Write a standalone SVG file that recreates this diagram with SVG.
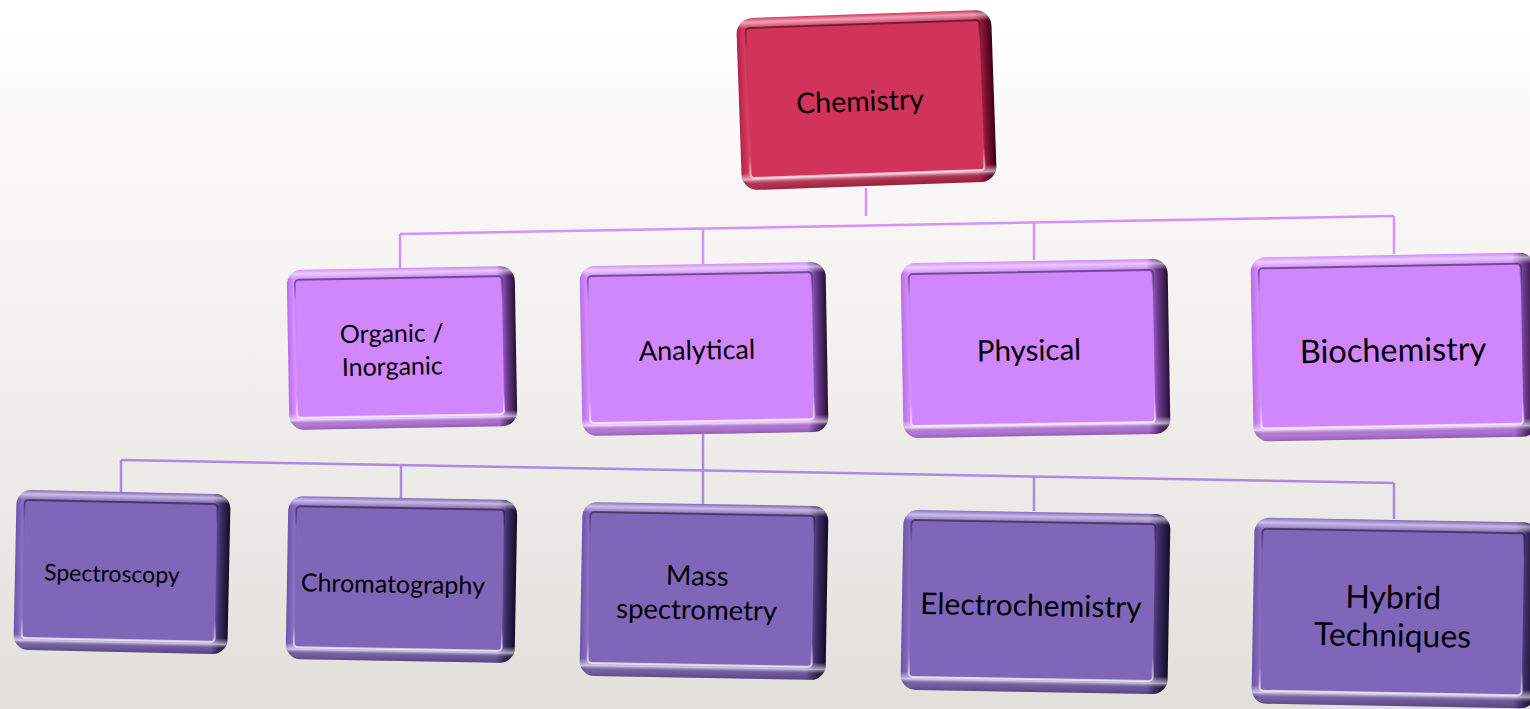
<svg xmlns="http://www.w3.org/2000/svg" width="1530" height="709" viewBox="0 0 1530 709">
<defs>
<linearGradient id="bg" x1="0" y1="0" x2="0" y2="1">
<stop offset="0" stop-color="#ffffff"/>
<stop offset="0.35" stop-color="#f6f5f3"/>
<stop offset="1" stop-color="#e3e0db"/>
</linearGradient>
<linearGradient id="hChem" x1="0" y1="0" x2="1" y2="0">
<stop offset="0" stop-color="#b02448"/>
<stop offset="0.03" stop-color="#d93a61"/>
<stop offset="0.93" stop-color="#cf2f55"/>
<stop offset="0.97" stop-color="#7a1030"/>
<stop offset="1" stop-color="#3a0414"/>
</linearGradient>
<linearGradient id="hL2" x1="0" y1="0" x2="1" y2="0">
<stop offset="0" stop-color="#b86ee8"/>
<stop offset="0.03" stop-color="#d890ff"/>
<stop offset="0.92" stop-color="#cd84fd"/>
<stop offset="0.96" stop-color="#6d3a90"/>
<stop offset="1" stop-color="#241030"/>
</linearGradient>
<linearGradient id="hL3" x1="0" y1="0" x2="1" y2="0">
<stop offset="0" stop-color="#6d54a8"/>
<stop offset="0.03" stop-color="#8a70c4"/>
<stop offset="0.92" stop-color="#7f63b8"/>
<stop offset="0.96" stop-color="#3c2c66"/>
<stop offset="1" stop-color="#140c24"/>
</linearGradient>
<linearGradient id="vHi" x1="0" y1="0" x2="0" y2="1">
<stop offset="0" stop-color="#ffffff" stop-opacity="0"/>
<stop offset="0.025" stop-color="#ffffff" stop-opacity="0.55"/>
<stop offset="0.06" stop-color="#ffffff" stop-opacity="0"/>
<stop offset="0.9" stop-color="#ffffff" stop-opacity="0"/>
<stop offset="0.94" stop-color="#ffffff" stop-opacity="0.6"/>
<stop offset="0.97" stop-color="#000000" stop-opacity="0.15"/>
<stop offset="1" stop-color="#000000" stop-opacity="0.3"/>
</linearGradient>
<linearGradient id="edge" x1="0" y1="0" x2="0" y2="1">
<stop offset="0" stop-color="#000000" stop-opacity="0.45"/>
<stop offset="0.15" stop-color="#000000" stop-opacity="0.05"/>
<stop offset="0.85" stop-color="#ffffff" stop-opacity="0.05"/>
<stop offset="1" stop-color="#ffffff" stop-opacity="0.7"/>
</linearGradient>
</defs>
<style>
.hi{fill:url(#vHi)}
.inChem{fill:#d2335a;stroke:url(#edge);stroke-width:2}
.inL2{fill:#d087fe;stroke:url(#edge);stroke-width:2}
.inL3{fill:#8066b9;stroke:url(#edge);stroke-width:2}
.lbl{font-family:Lato,"Liberation Sans",sans-serif;fill:#000;text-anchor:middle;dominant-baseline:central}
.c1{stroke:#d690ff;stroke-width:2.5;fill:none}
.c2{stroke:#a98be6;stroke-width:2.5;fill:none}
</style>
<rect x="0" y="0" width="1530" height="709" fill="url(#bg)"/>

<g id="connectors">
<path class="c1" d="M866,188 L866,216"/>
<path class="c1" d="M400,234 L1394,216"/>
<path class="c1" d="M400,234 L400,268"/>
<path class="c1" d="M703,229 L703,264"/>
<path class="c1" d="M1034,223 L1034,260"/>
<path class="c1" d="M1394,216 L1394,254"/>
<path class="c2" d="M703,434 L703,468"/>
<path class="c2" d="M121,460 L1394,483"/>
<path class="c2" d="M121,460 L121,493"/>
<path class="c2" d="M401,465 L401,498"/>
<path class="c2" d="M703,468 L703,504"/>
<path class="c2" d="M1034,477 L1034,511"/>
<path class="c2" d="M1394,483 L1394,519"/>
</g>

<g id="chemistry" transform="rotate(-2 866 100)">
<rect x="739" y="14" width="255" height="172" rx="16" fill="url(#hChem)"/>
<rect x="739" y="14" width="255" height="172" rx="16" class="hi"/>
<rect class="inChem" x="748" y="24" width="234" height="150" rx="4"/>
<text class="lbl" x="860" y="100" font-size="28.5">Chemistry</text>
</g>

<g id="organic" transform="rotate(-1 402 348)">
<rect x="288" y="268" width="228" height="160" rx="15" fill="url(#hL2)"/>
<rect x="288" y="268" width="228" height="160" rx="15" class="hi"/>
<rect class="inL2" x="296" y="278" width="207" height="138" rx="4"/>
<text class="lbl" x="392" y="332" font-size="25">Organic /</text>
<text class="lbl" x="392" y="365" font-size="25">Inorganic</text>
</g>

<g id="analytical" transform="rotate(-1 704 349)">
<rect x="581" y="264" width="246" height="170" rx="15" fill="url(#hL2)"/>
<rect x="581" y="264" width="246" height="170" rx="15" class="hi"/>
<rect class="inL2" x="589" y="274" width="224" height="147" rx="4"/>
<text class="lbl" x="697" y="349" font-size="27">Analytical</text>
</g>

<g id="physical" transform="rotate(-1 1035 348)">
<rect x="902" y="261" width="267" height="175" rx="15" fill="url(#hL2)"/>
<rect x="902" y="261" width="267" height="175" rx="15" class="hi"/>
<rect class="inL2" x="910" y="272" width="244" height="152" rx="4"/>
<text class="lbl" x="1029" y="349" font-size="29.5">Physical</text>
</g>

<g id="biochemistry" transform="rotate(-1 1393 346)">
<rect x="1252" y="255" width="284" height="184" rx="15" fill="url(#hL2)"/>
<rect x="1252" y="255" width="284" height="184" rx="15" class="hi"/>
<rect class="inL2" x="1260" y="266" width="262" height="160" rx="4"/>
<text class="lbl" x="1393" y="349" font-size="32.5">Biochemistry</text>
</g>

<g id="spectroscopy" transform="rotate(1.2 122 572)">
<rect x="15" y="492" width="214" height="160" rx="15" fill="url(#hL3)"/>
<rect x="15" y="492" width="214" height="160" rx="15" class="hi"/>
<rect class="inL3" x="23" y="502" width="193" height="138" rx="4"/>
<text class="lbl" x="112" y="573" font-size="23">Spectroscopy</text>
</g>

<g id="chromatography" transform="rotate(1 401 579)">
<rect x="287" y="498" width="229" height="163" rx="15" fill="url(#hL3)"/>
<rect x="287" y="498" width="229" height="163" rx="15" class="hi"/>
<rect class="inL3" x="295" y="508" width="208" height="141" rx="4"/>
<text class="lbl" x="393" y="583" font-size="25">Chromatography</text>
</g>

<g id="mass-spectrometry" transform="rotate(1 704 591)">
<rect x="581" y="504" width="246" height="174" rx="15" fill="url(#hL3)"/>
<rect x="581" y="504" width="246" height="174" rx="15" class="hi"/>
<rect class="inL3" x="589" y="514" width="224" height="151" rx="4"/>
<text class="lbl" x="697" y="575" font-size="27.5">Mass</text>
<text class="lbl" x="697" y="609" font-size="27.5">spectrometry</text>
</g>

<g id="electrochemistry" transform="rotate(1 1035 601)">
<rect x="902" y="512" width="267" height="180" rx="15" fill="url(#hL3)"/>
<rect x="902" y="512" width="267" height="180" rx="15" class="hi"/>
<rect class="inL3" x="910" y="522" width="244" height="157" rx="4"/>
<text class="lbl" x="1031" y="604" font-size="30">Electrochemistry</text>
</g>

<g id="hybrid-techniques" transform="rotate(1 1393 612)">
<rect x="1253" y="520" width="284" height="186" rx="15" fill="url(#hL3)"/>
<rect x="1253" y="520" width="284" height="186" rx="15" class="hi"/>
<rect class="inL3" x="1261" y="531" width="262" height="162" rx="4"/>
<text class="lbl" x="1393" y="596" font-size="32">Hybrid</text>
<text class="lbl" x="1393" y="634" font-size="32">Techniques</text>
</g>
</svg>
